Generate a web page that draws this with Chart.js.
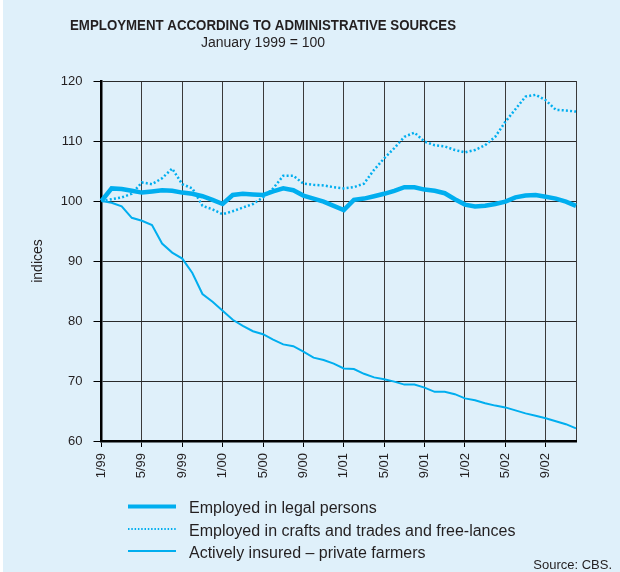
<!DOCTYPE html>
<html>
<head>
<meta charset="utf-8">
<script src="https://cdn.jsdelivr.net/npm/chart.js@4"></script>
<style>
  html, body { margin: 0; padding: 0; background: #fff; }
  #wrap {
    width: 620px; height: 572px; position: relative;
    background: linear-gradient(to right, #fff 3px, #dff0fa 3px);
  }
</style>
</head>
<body>
<div id="wrap"><canvas id="myChart" width="620" height="572"></canvas></div>
<script>
// months, January 1999 .. December 2002
const months = [
  '1/99','2/99','3/99','4/99','5/99','6/99','7/99','8/99','9/99','10/99','11/99','12/99',
  '1/00','2/00','3/00','4/00','5/00','6/00','7/00','8/00','9/00','10/00','11/00','12/00',
  '1/01','2/01','3/01','4/01','5/01','6/01','7/01','8/01','9/01','10/01','11/01','12/01',
  '1/02','2/02','3/02','4/02','5/02','6/02','7/02','8/02','9/02','10/02','11/02','12/02'
];
const tickLabels = ['1/99','5/99','9/99','1/00','5/00','9/00','1/01','5/01','9/01','1/02','5/02','9/02'];
const yTicks = [60, 70, 80, 90, 100, 110, 120];

const legalPersons = [
  100, 102.1, 102.0, 101.7, 101.4, 101.6, 101.8, 101.7, 101.4, 101.2, 100.8, 100.2,
  99.5, 101.0, 101.2, 101.1, 101.0, 101.6, 102.1, 101.8, 100.9, 100.4, 99.9, 99.2,
  98.5, 100.2, 100.4, 100.8, 101.2, 101.7, 102.3, 102.3, 101.9, 101.7, 101.3, 100.3,
  99.4, 99.1, 99.2, 99.5, 99.9, 100.6, 100.9, 101.0, 100.7, 100.4, 99.9, 99.2
];
const craftsTrades = [
  100, 100.3, 100.6, 101.2, 103.1, 102.8, 103.8, 105.4, 102.8, 102.1, 99.2, 98.6,
  97.8, 98.3, 98.9, 99.5, 100.6, 102.1, 104.2, 104.2, 102.9, 102.7, 102.6, 102.3,
  102.1, 102.3, 102.9, 105.2, 107.1, 108.8, 110.7, 111.4, 109.9, 109.3, 109.1, 108.5,
  108.1, 108.5, 109.3, 110.7, 113.2, 115.3, 117.4, 117.7, 116.8, 115.2, 115.1, 114.9
];
const privateFarmers = [
  100, 99.7, 99.1, 97.2, 96.7, 96.0, 92.9, 91.4, 90.4, 88.0, 84.5, 83.2,
  81.7, 80.2, 79.2, 78.3, 77.8, 76.9, 76.1, 75.8, 74.9, 73.9, 73.5, 72.9,
  72.1, 72.0, 71.2, 70.6, 70.3, 69.9, 69.4, 69.4, 68.9, 68.2, 68.2, 67.8,
  67.1, 66.8, 66.3, 65.9, 65.6, 65.1, 64.6, 64.2, 63.8, 63.3, 62.8, 62.1
];

const seriesNames = [
  'Employed in legal persons',
  'Employed in crafts and trades and free-lances',
  'Actively insured – private farmers'
];

const blue = '#00aeef';
const ink = '#231f20';
const fontFamily = '"Liberation Sans", Arial, sans-serif';

Chart.defaults.font.family = fontFamily;
Chart.defaults.color = ink;

// title, legend and source drawn on the canvas
const decor = {
  id: 'decor',
  afterDraw(chart) {
    const ctx = chart.ctx;
    ctx.save();
    ctx.fillStyle = ink;
    ctx.textAlign = 'center';
    ctx.textBaseline = 'alphabetic';
    ctx.font = 'bold 15px ' + fontFamily;
    ctx.fillText('EMPLOYMENT ACCORDING TO ADMINISTRATIVE SOURCES', 263, 29.5, 386);
    ctx.font = '14px ' + fontFamily;
    ctx.fillText('January 1999 = 100', 263, 46.5);

    const rows = [
      { y: 506.5, width: 4, dash: [] },
      { y: 529, width: 2, dash: [1.5, 1.8] },
      { y: 551, width: 2, dash: [] }
    ];
    ctx.textAlign = 'left';
    ctx.font = '16px ' + fontFamily;
    rows.forEach((r, i) => {
      ctx.beginPath();
      ctx.strokeStyle = blue;
      ctx.lineWidth = r.width;
      ctx.setLineDash(r.dash);
      ctx.moveTo(128, r.y);
      ctx.lineTo(176, r.y);
      ctx.stroke();
      ctx.setLineDash([]);
      ctx.fillText(seriesNames[i], 189, r.y + 6.5);
    });

    ctx.textAlign = 'right';
    ctx.font = '13px ' + fontFamily;
    ctx.fillText('Source: CBS.', 612, 569);
    ctx.restore();
  }
};

const canvas = document.getElementById('myChart');
new Chart(canvas.getContext('2d'), {
  type: 'line',
  data: {
    labels: months,
    datasets: [
      {
        label: seriesNames[0],
        data: legalPersons,
        borderColor: blue,
        borderWidth: 4.5,
        pointRadius: 0,
        tension: 0
      },
      {
        label: seriesNames[1],
        data: craftsTrades,
        borderColor: blue,
        borderWidth: 2.5,
        borderDash: [2, 2.2],
        pointRadius: 0,
        tension: 0
      },
      {
        label: seriesNames[2],
        data: privateFarmers,
        borderColor: blue,
        borderWidth: 2,
        pointRadius: 0,
        tension: 0
      }
    ]
  },
  options: {
    responsive: false,
    animation: false,
    layout: { padding: { left: 0, top: 81, right: 44, bottom: 91 } },
    plugins: {
      legend: { display: false },
      title: { display: false },
      tooltip: { enabled: false }
    },
    scales: {
      x: {
        offset: false,
        afterFit(scale) { scale.height = 40; },
        border: { display: true, color: '#000', width: 2.5 },
        grid: {
          color: c => (c.index % 4 === 0 || c.index === months.length - 1) ? '#3a3a3a' : 'transparent',
          tickColor: c => (c.index % 4 === 0) ? '#000' : 'transparent',
          tickLength: 6,
          lineWidth: 1
        },
        ticks: {
          autoSkip: false,
          minRotation: 90,
          maxRotation: 90,
          padding: 6,
          font: { size: 13 },
          color: ink,
          callback: (v, i) => tickLabels.includes(months[i]) ? months[i] : ''
        }
      },
      y: {
        min: 60,
        max: 120,
        afterFit(scale) { scale.width = 101.5; },
        afterBuildTicks(scale) { scale.ticks = yTicks.map(v => ({ value: v })); },
        border: { display: true, color: '#000', width: 2.5 },
        grid: { color: '#2a2a2a', tickColor: '#000', tickLength: 8, lineWidth: 1 },
        ticks: { padding: 11, font: { size: 13 }, color: ink },
        title: {
          display: true,
          text: 'indices',
          font: { size: 14 },
          color: ink,
          padding: { top: 30, bottom: 0 }
        }
      }
    }
  },
  plugins: [decor]
});
</script>
</body>
</html>
